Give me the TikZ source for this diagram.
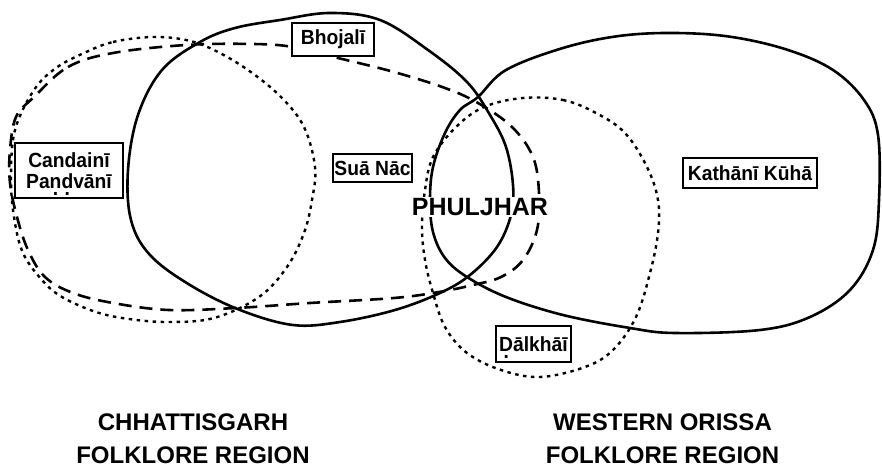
\documentclass[tikz,border=0pt]{standalone}
\usepackage{fontspec}
\setmainfont{Liberation Sans}
\newfontfamily\condfont[FakeStretch=0.94]{Liberation Sans}
\newcommand\udot[1]{\ooalign{#1\cr\hidewidth\raisebox{-.36em}[0pt][0pt]{.}\hidewidth}}
\begin{document}
\begin{tikzpicture}[x=1pt,y=-1pt,
  solidline/.style={line width=2.6pt},
  dashline/.style={line width=2.6pt, dash pattern=on 13pt off 8pt},
  dotline/.style={line width=2.4pt, dash pattern=on 3.5pt off 4.5pt},
  lbl/.style={draw, line width=1.1pt, fill=white, inner sep=0pt, align=center,
    font=\condfont\bfseries\fontsize{20.5}{21.5}\selectfont},
  region/.style={align=center, font=\bfseries\fontsize{24}{33}\selectfont}]
\useasboundingbox (0,0) rectangle (882,470);
% Chhattisgarh region (solid)
\draw[solidline] plot[smooth cycle, tension=0.6] coordinates {
 (200,42) (235,28) (280,20) (330,13) (380,20) (428,50) (467,82) (490,115)
 (506,147) (513,185) (511,215) (497,247) (470,275) (440,293) (395,310)
 (340,322) (293,325) (240,310) (190,285) (150,255) (131,220) (128,170)
 (138,115) (162,70)};
% Western Orissa region (solid)
\draw[solidline] plot[smooth cycle, tension=0.6] coordinates {
 (478,97) (506,70) (563,48) (619,36) (675,33) (732,37) (788,50) (833,70)
 (864,100) (878,135) (879,200) (873,250) (850,290) (810,317) (760,330)
 (675,333) (630,328) (563,315) (506,297) (467,277) (445,258) (433,232)
 (430,200) (433,167) (445,133) (460,110)};
% dashed region
\draw[dashline] plot[smooth cycle, tension=0.6] coordinates {
 (34,97) (68,67) (113,53) (186,45) (253,44) (293,47) (338,58) (394,72)
 (445,88) (478,103) (512,127) (533,157) (539,193) (537,230) (523,260)
 (501,277) (473,285) (439,292) (394,298) (310,303) (236,308) (169,310)
 (113,303) (73,293) (45,277) (28,250) (17,217) (10,183) (10,150) (16,117)};
% dotted left region
\draw[dotline] plot[smooth cycle, tension=0.6] coordinates {
 (84,53) (113,42) (152,37) (186,40) (214,50) (248,70) (281,97) (304,127)
 (315,167) (312,200) (304,233) (287,267) (259,297) (214,318) (169,322)
 (129,319) (96,312) (62,297) (42,280) (23,253) (14,217) (11,177) (15,130)
 (34,90) (56,68)};
% dotted right region
\draw[dotline] plot[smooth cycle, tension=0.6] coordinates {
 (523,98) (563,100) (596,113) (625,133) (647,167) (658,200) (658,233)
 (650,273) (636,317) (613,350) (585,367) (540,377) (501,370) (467,353)
 (445,327) (433,293) (425,260) (422,227) (425,190) (433,157) (456,127)
 (484,107)};
% labels
\node[lbl, minimum width=82pt, minimum height=33pt] (bhojali) at (333,39.5) {Bhojalī};
\node[lbl, minimum width=108pt, minimum height=55pt] (candaini) at (69,170.5)
  {Candainī\\Pa\udot{n}\udot{d}vānī};
\node[lbl, minimum width=79pt, minimum height=28pt] (suanac) at (372.5,168) {Suā Nāc};
\node[lbl, minimum width=134pt, minimum height=30pt] (kathani) at (750,173) {Kathānī Kūhā};
\node[lbl, minimum width=75pt, minimum height=36pt] (dalkhai) at (533.5,344) {\udot{D}ālkhāī};
\node[fill=white, inner sep=1pt, font=\bfseries\fontsize{25}{30}\selectfont] (phuljhar) at (480,207) {PHULJHAR};
\node[region] (chh) at (193,438.5) {CHHATTISGARH\\FOLKLORE REGION};
\node[region] (wor) at (662.5,438.5) {WESTERN ORISSA\\FOLKLORE REGION};
\end{tikzpicture}
\end{document}
